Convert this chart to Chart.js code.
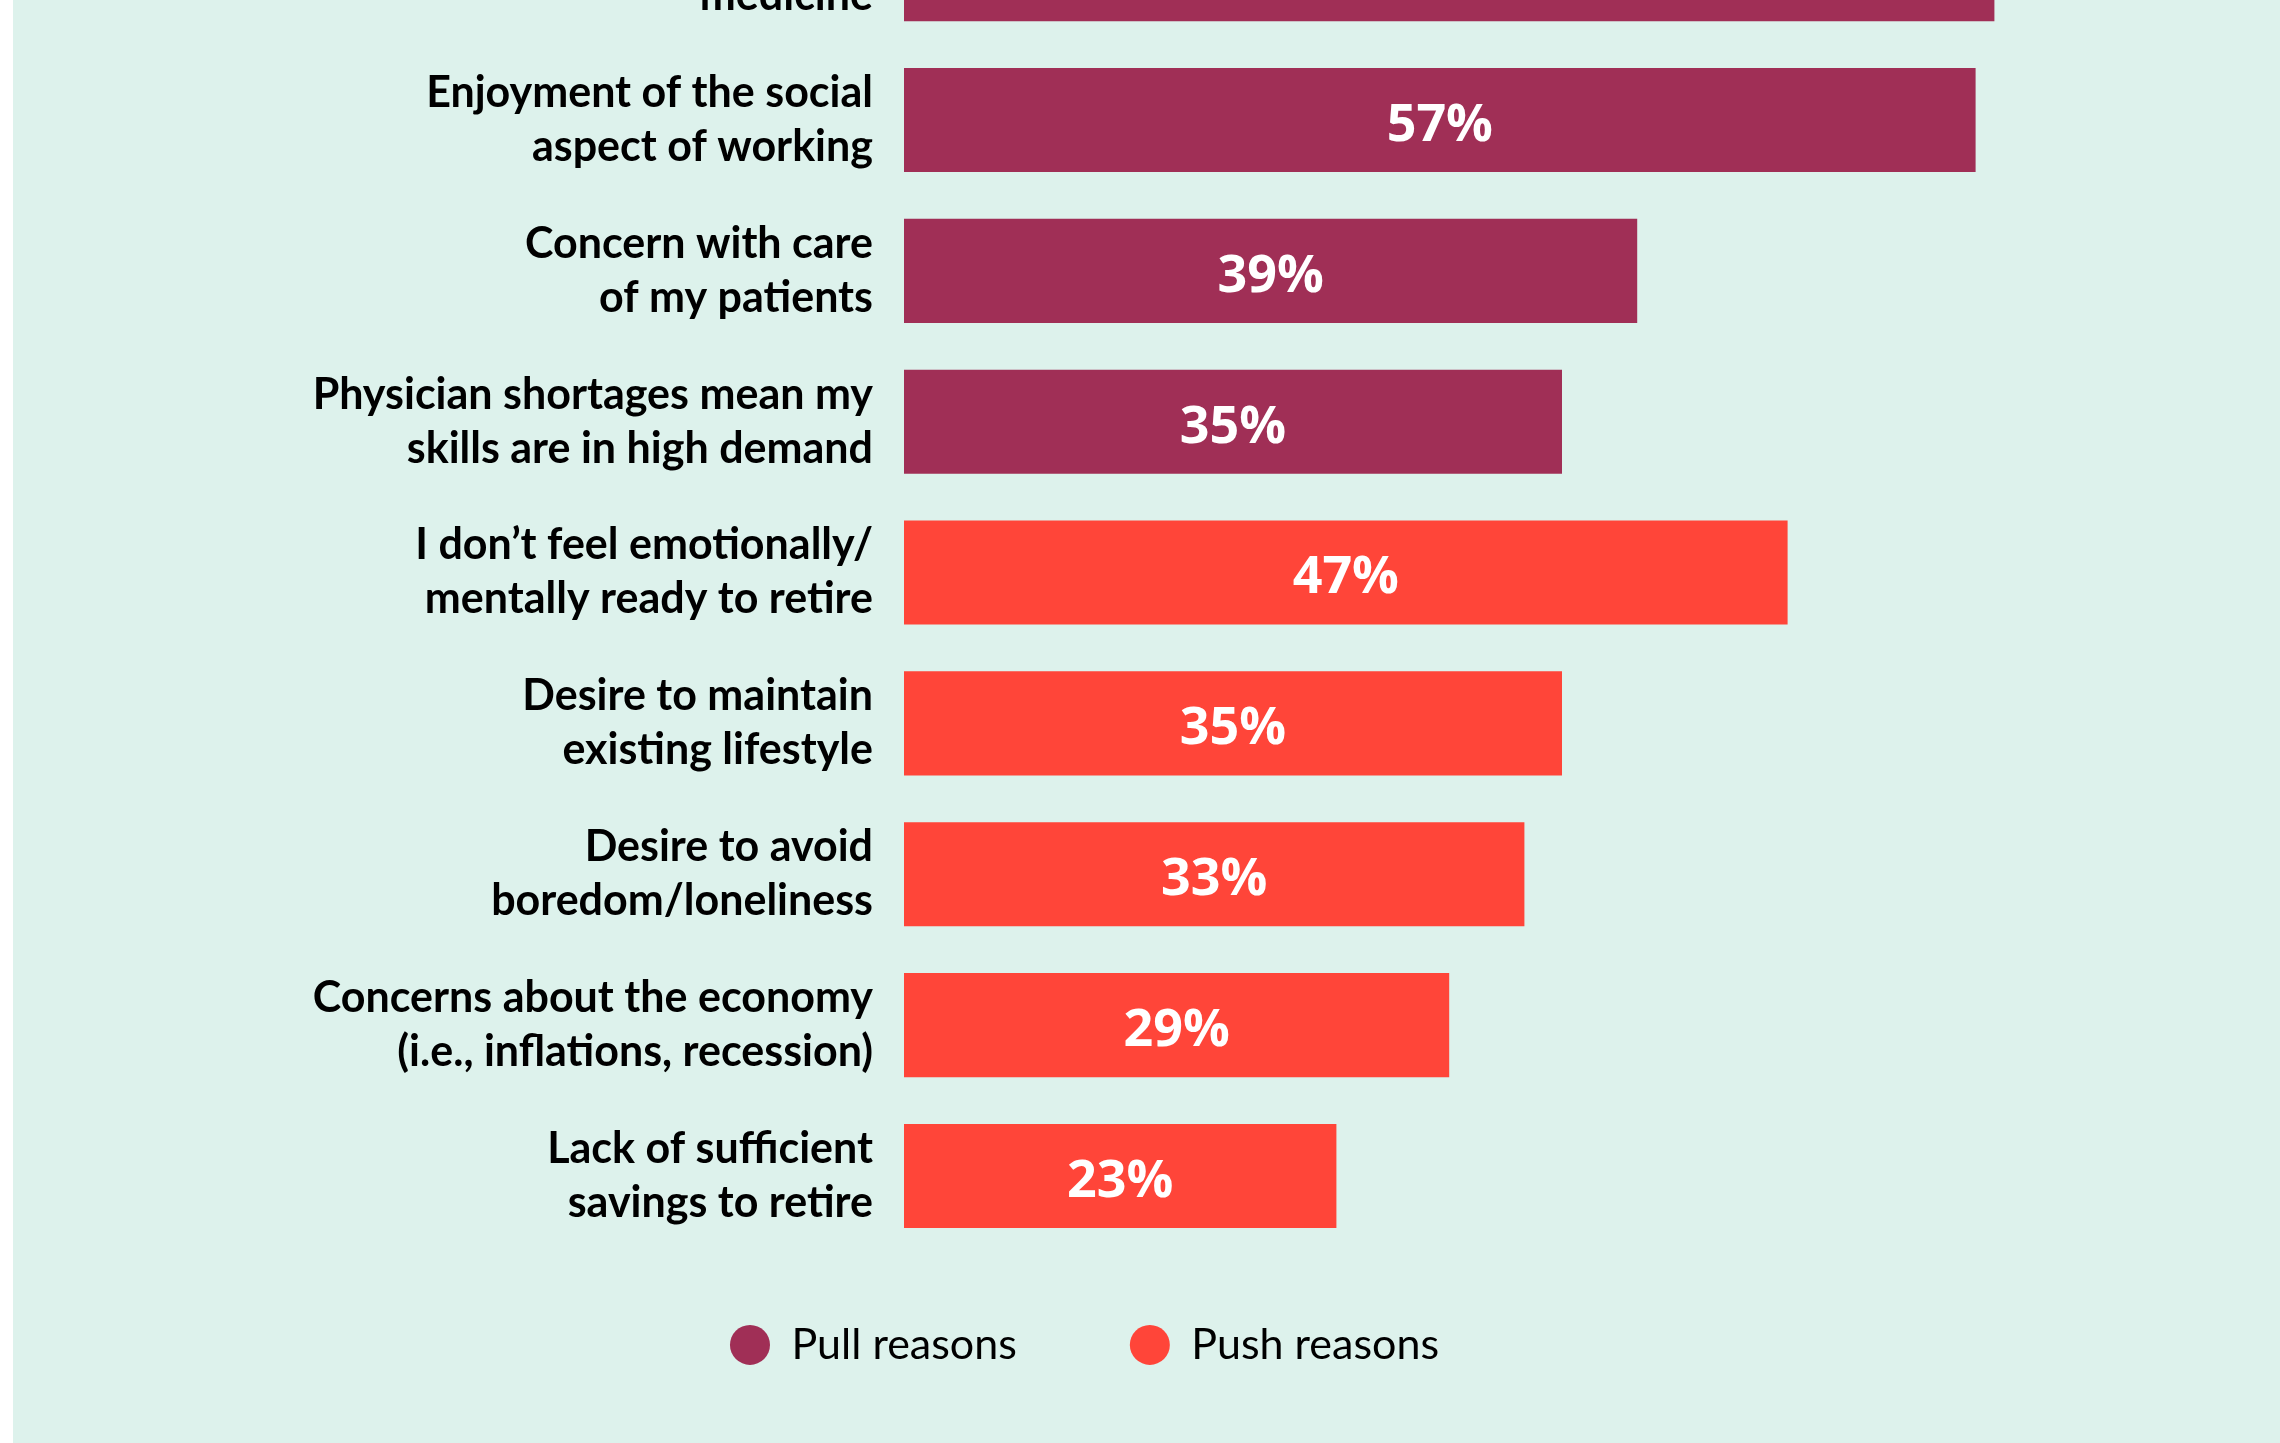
<!DOCTYPE html>
<html>
<head>
  <title>Reasons physicians keep working</title>
  <meta charset="utf-8" />
  <script src="https://cdn.jsdelivr.net/npm/chart.js@4.4.1/dist/chart.umd.min.js"></script>
  <style>
    html, body {
      width: 100%;
      height: 100%;
      margin: 0;
      padding: 0;
      overflow: hidden;
      background-color: #ffffff;
    }
    #panel {
      position: absolute;
      left: 13px;
      top: 0;
      right: 0;
      bottom: 0;
      background-color: #ddf2ec;
      overflow: hidden;
    }
    #chartBox {
      position: absolute;
      left: 0;
      top: -200px;
      width: 2140px;
      height: 1643px;
    }
  </style>
</head>
<body>
  <div id="panel">
    <div id="chartBox">
      <canvas id="reasonsChart"></canvas>
    </div>
  </div>
  <script>
    var categories = [
      ['Love of practicing', 'medicine'],
      ['Enjoyment of the social', 'aspect of working'],
      ['Concern with care', 'of my patients'],
      ['Physician shortages mean my', 'skills are in high demand'],
      ['I don\u2019t feel emotionally/', 'mentally ready to retire'],
      ['Desire to maintain', 'existing lifestyle'],
      ['Desire to avoid', 'boredom/loneliness'],
      ['Concerns about the economy', '(i.e., inflations, recession)'],
      ['Lack of sufficient', 'savings to retire']
    ];
    var pullValues = [58, 57, 39, 35];
    var pushValues = [47, 35, 33, 29, 23];

    var pullColor = '#a02f56';
    var pushColor = '#ff4539';

    // pull reasons fill the first rows, push reasons the rest
    var pullData = pullValues.concat(pushValues.map(function() { return null; }));
    var pushData = pullValues.map(function() { return null; }).concat(pushValues);

    // white percentage centred on every bar
    var barValueLabels = {
      id: 'barValueLabels',
      afterDatasetsDraw: function(chart) {
        var ctx = chart.ctx;
        ctx.save();
        ctx.fillStyle = '#ffffff';
        ctx.font = 'bold 52px "Open Sans"';
        ctx.textAlign = 'center';
        ctx.textBaseline = 'middle';
        chart.data.datasets.forEach(function(ds, di) {
          var meta = chart.getDatasetMeta(di);
          meta.data.forEach(function(bar, i) {
            var v = ds.data[i];
            if (v === null) return;
            var p = bar.getProps(['x', 'y', 'base'], true);
            ctx.fillText(v + '%', (p.x + p.base) / 2, p.y + 6);
          });
        });
        ctx.restore();
      }
    };

    // legend sits closer to the bars than its item padding would allow
    var legendLift = {
      id: 'legendLift',
      afterLayout: function(chart) {
        chart.legend.top -= 41;
        chart.legend.bottom -= 41;
      }
    };

    var ctx = document.getElementById('reasonsChart').getContext('2d');
    var reasonsChart = new Chart(ctx, {
      type: 'bar',
      data: {
        labels: categories,
        datasets: [
          { label: 'Pull reasons', data: pullData, backgroundColor: pullColor },
          { label: 'Push reasons', data: pushData, backgroundColor: pushColor }
        ]
      },
      options: {
        indexAxis: 'y',
        responsive: true,
        maintainAspectRatio: false,
        animation: false,
        grouped: false,
        categoryPercentage: 1,
        barPercentage: 0.69,
        layout: {
          padding: { top: 93.7, right: 8.2, bottom: 25.6, left: 11.2 }
        },
        scales: {
          x: {
            display: false,
            min: 0,
            max: 66
          },
          y: {
            border: { display: false },
            grid: { display: false, drawTicks: false },
            ticks: {
              color: '#000000',
              padding: 31,
              font: { family: 'Lato', weight: 'bold', size: 43, lineHeight: 1.256 }
            },
            afterFit: function(scale) {
              scale.width = 879.8;
            }
          }
        },
        plugins: {
          tooltip: { enabled: false },
          legend: {
            position: 'bottom',
            labels: {
              color: '#000000',
              usePointStyle: true,
              pointStyle: 'circle',
              boxHeight: 28.28,
              pointStyleWidth: 40,
              padding: 113,
              font: { family: 'Lato', size: 43 }
            }
          }
        }
      },
      plugins: [barValueLabels, legendLift]
    });
  </script>
</body>
</html>
